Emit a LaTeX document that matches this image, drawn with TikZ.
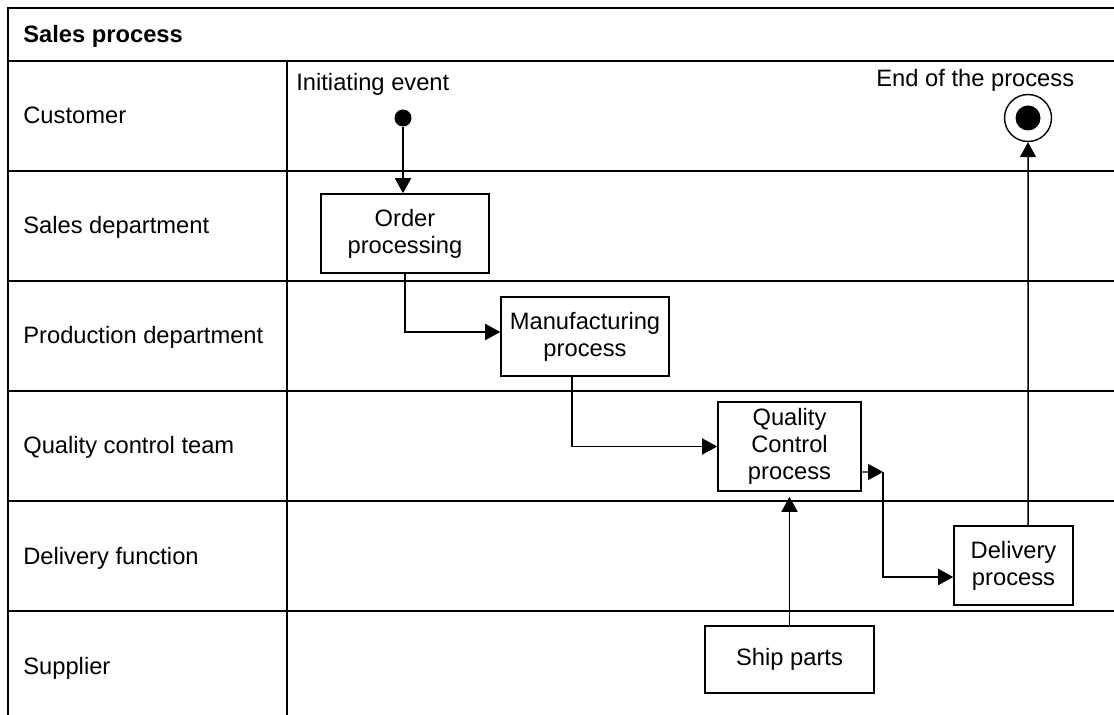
\documentclass[tikz,border=0pt]{standalone}
\usepackage{fontspec}
\setmainfont{Liberation Sans}
\usetikzlibrary{arrows.meta,calc}
\begin{document}
\begin{tikzpicture}[x=0.02cm,y=-0.02cm,
  font=\fontsize{13.5}{15.5}\selectfont,
  frame/.style={line width=1.15pt},
  stepbox/.style={draw,line width=0.9pt,align=center,inner sep=0pt,fill=white},
  flow/.style={line width=0.85pt,-{Triangle[length=0.3cm,width=0.32cm]}},
  lanelabel/.style={anchor=base west,inner sep=0pt}]
\useasboundingbox (0,0) rectangle (1114,715);

% swimlane frame
\draw[frame] (8,715) -- (8,8) -- (1114,8);
\draw[frame] (8,61) -- (1114,61);
\foreach \y in {171,281,391,501,611} \draw[frame] (8,\y) -- (1114,\y);
\draw[frame] (287,61) -- (287,715);

% header and lane names
\node[lanelabel,font=\fontsize{13.5}{15.5}\selectfont\bfseries] (title) at (23,43) {Sales process};
\node[lanelabel] (l1) at (23,124) {Customer};
\node[lanelabel] (l2) at (23,234) {Sales department};
\node[lanelabel] (l3) at (23,344) {Production department};
\node[lanelabel] (l4) at (23,454) {Quality control team};
\node[lanelabel] (l5) at (23,564) {Delivery function};
\node[lanelabel] (l6) at (23,674) {Supplier};

% events
\node[lanelabel] (startlbl) at (296,91) {Initiating event};
\node[lanelabel] (endlbl) at (876,87) {End of the process};
\node[circle,fill=black,inner sep=0pt,minimum size=0.34cm] (start) at (403,118) {};
\node[circle,draw,line width=0.8pt,inner sep=0pt,minimum size=0.94cm] (endc) at (1028,118) {};
\fill (endc.center) circle[radius=0.25cm];

% activities
\node[stepbox,minimum width=3.36cm,minimum height=1.58cm] (order) at (405,233.5) {Order\\processing};
\node[stepbox,minimum width=3.36cm,minimum height=1.58cm] (manu) at (585,336.5) {Manufacturing\\process};
\node[stepbox,minimum width=2.86cm,minimum height=1.78cm] (qc) at (789.5,446.5) {Quality\\Control\\process};
\node[stepbox,minimum width=2.38cm,minimum height=1.58cm] (deliv) at (1013.5,565.5) {Delivery\\process};
\node[stepbox,minimum width=3.38cm,minimum height=1.34cm] (ship) at (789.5,659.5) {Ship parts};
\coordinate (bend) at (883,472);

% flows
\draw[flow] (start) -- (start |- order.north);
\draw[flow] (order.south) |- ($(manu.west)+(0,-4.5)$);
\draw[flow] ($(manu.south)+(-13,0)$) |- (qc.west);
\draw[flow] ($(qc.east)+(0,25.5)$) -- (bend);
\draw[flow] (bend) |- ($(deliv.west)+(0,11.5)$);
\draw[flow] ($(deliv.north)+(14.5,0)$) -- (endc.south);
\draw[flow] (ship.north) -- ($(qc.south)+(0,5)$);
\end{tikzpicture}
\end{document}
